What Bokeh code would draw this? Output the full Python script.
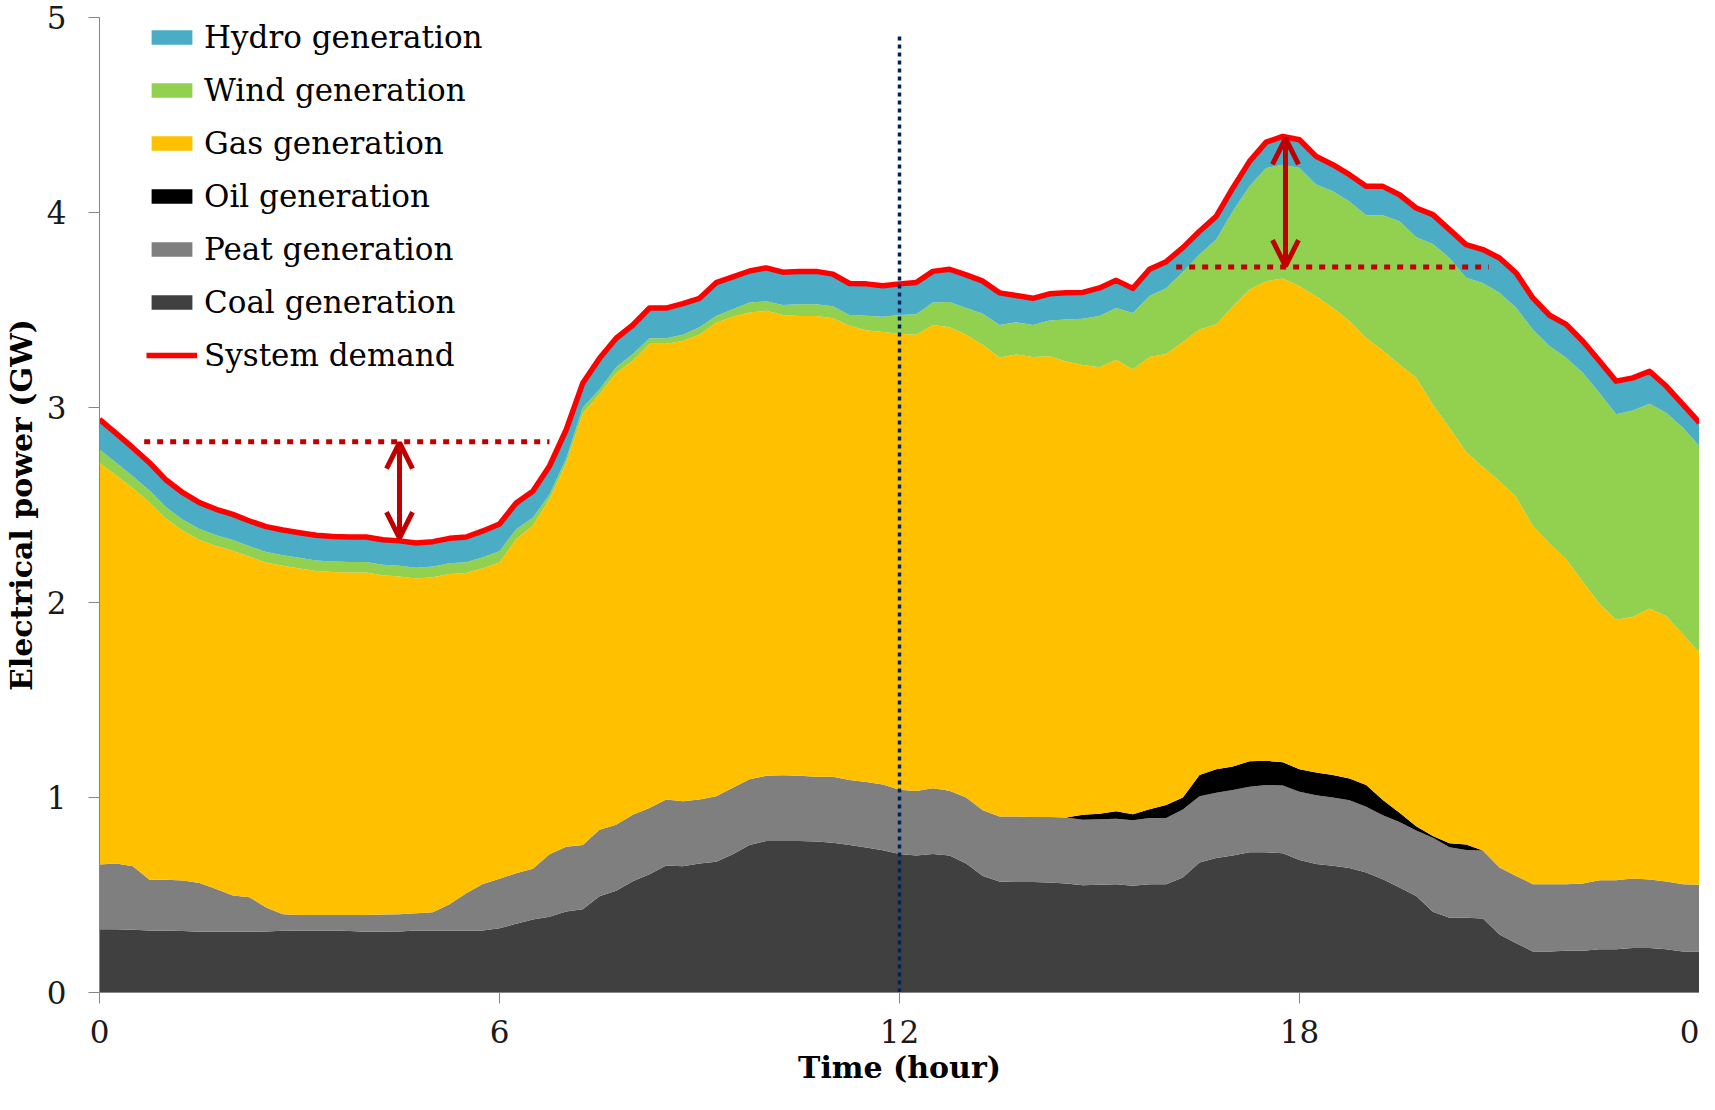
import numpy as np
from bokeh.plotting import figure
from bokeh.models import ColumnDataSource, Legend, LegendItem, Arrow, OpenHead, FixedTicker
from bokeh.embed import file_html
from bokeh.resources import INLINE

# quarter-hour time stamps, 0 .. 24 h
hours = np.arange(97) * 0.25

coal = [
    .324, .324, .322, .318, .317, .315, .311, .311,
    .311, .311, .313, .317, .318, .318, .318, .315,
    .311, .311, .313, .318, .318, .318, .318, .318,
    .329, .353, .375, .388, .415, .427, .493, .522,
    .571, .606, .651, .647, .661, .670, .709, .756,
    .777, .777, .777, .775, .768, .756, .744, .730,
    .710, .702, .710, .702, .662, .598, .569, .567,
    .567, .564, .559, .550, .552, .555, .547, .555,
    .555, .590, .667, .690, .702, .719, .719, .714,
    .679, .659, .650, .638, .616, .581, .538, .495,
    .414, .383, .383, .379, .297, .253, .210, .210,
    .214, .214, .222, .222, .228, .228, .222, .210,
    .210]

peat = [
    .333, .337, .325, .260, .261, .259, .251, .220,
    .186, .177, .123, .084, .080, .080, .080, .083,
    .087, .089, .088, .089, .094, .135, .191, .239,
    .254, .259, .260, .321, .332, .329, .341, .338,
    .341, .340, .339, .334, .329, .337, .341, .337,
    .334, .337, .334, .332, .338, .334, .336, .337,
    .330, .331, .337, .332, .338, .336, .334, .336,
    .333, .336, .338, .336, .336, .336, .336, .340,
    .340, .348, .340, .334, .336, .336, .345, .348,
    .350, .353, .350, .348, .336, .328, .336, .336,
    .379, .362, .348, .349, .344, .345, .345, .345,
    .341, .345, .354, .354, .356, .351, .347, .345,
    .342]

oil = [
    0, 0, 0, 0, 0, 0, 0, 0,
    0, 0, 0, 0, 0, 0, 0, 0,
    0, 0, 0, 0, 0, 0, 0, 0,
    0, 0, 0, 0, 0, 0, 0, 0,
    0, 0, 0, 0, 0, 0, 0, 0,
    0, 0, 0, 0, 0, 0, 0, 0,
    0, 0, 0, 0, 0, 0, 0, 0,
    0, 0, 0, .026, .029, .038, .031, .045,
    .066, .062, .109, .121, .121, .131, .124, .119,
    .116, .116, .116, .112, .112, .078, .048, .021,
    .010, .021, .028, 0, 0, 0, 0, 0,
    0, 0, 0, 0, 0, 0, 0, 0,
    0]

gas = [
    2.060, 1.991, 1.939, 1.936, 1.852, 1.794, 1.759, 1.759,
    1.769, 1.746, 1.769, 1.787, 1.777, 1.764, 1.758, 1.756,
    1.756, 1.740, 1.732, 1.716, 1.718, 1.693, 1.642, 1.619,
    1.622, 1.714, 1.759, 1.822, 1.968, 2.215, 2.235, 2.316,
    2.328, 2.381, 2.337, 2.360, 2.383, 2.428, 2.415, 2.394,
    2.385, 2.360, 2.358, 2.362, 2.352, 2.329, 2.316, 2.320,
    2.338, 2.340, 2.376, 2.378, 2.373, 2.387, 2.354, 2.369,
    2.359, 2.363, 2.339, 2.306, 2.289, 2.316, 2.281, 2.319,
    2.314, 2.336, 2.284, 2.281, 2.360, 2.419, 2.460, 2.480,
    2.477, 2.443, 2.395, 2.345, 2.293, 2.305, 2.298, 2.300,
    2.213, 2.129, 2.013, 1.967, 1.982, 1.943, 1.837, 1.749,
    1.667, 1.548, 1.418, 1.335, 1.342, 1.390, 1.362, 1.282,
    1.191]

wind = [
    .068, .065, .062, .060, .058, .057, .056, .055,
    .055, .054, .054, .054, .054, .054, .054, .054,
    .054, .054, .055, .055, .055, .055, .055, .056,
    .058, .050, .041, .023, .022, .029, .023, .030,
    .035, .028, .028, .032, .039, .034, .039, .051,
    .049, .052, .061, .061, .061, .055, .074, .078,
    .096, .105, .115, .129, .137, .160, .166, .165,
    .164, .183, .215, .237, .263, .265, .290, .313,
    .336, .359, .384, .435, .487, .529, .580, .584,
    .606, .572, .598, .614, .629, .694, .735, .721,
    .823, .872, .893, .944, .965, .970, 1.008, 1.011,
    1.033, 1.071, 1.081, 1.054, 1.059, 1.050, 1.042, 1.059,
    1.059]

hydro = [
    .154, .150, .146, .143, .140, .138, .135, .133,
    .131, .130, .130, .130, .129, .129, .128, .128,
    .128, .128, .128, .127, .127, .128, .130, .135,
    .140, .134, .135, .146, .149, .126, .160, .149,
    .148, .155, .155, .160, .148, .171, .166, .162,
    .171, .168, .168, .168, .165, .162, .164, .159,
    .160, .163, .160, .168, .170, .167, .165, .137,
    .137, .137, .137, .135, .144, .142, .126, .137,
    .137, .125, .120, .119, .120, .128, .133, .145,
    .145, .145, .136, .137, .148, .148, .136, .150,
    .150, .145, .170, .171, .179, .179, .162, .158,
    .171, .162, .163, .170, .167, .167, .137, .120,
    .120]

demand = [
    2.939, 2.867, 2.794, 2.717, 2.628, 2.563, 2.512, 2.478,
    2.452, 2.418, 2.389, 2.372, 2.358, 2.345, 2.338, 2.336,
    2.336, 2.322, 2.316, 2.305, 2.312, 2.329, 2.336, 2.367,
    2.403, 2.510, 2.570, 2.700, 2.886, 3.126, 3.252, 3.355,
    3.423, 3.510, 3.510, 3.533, 3.560, 3.640, 3.670, 3.700,
    3.716, 3.694, 3.698, 3.698, 3.684, 3.636, 3.634, 3.624,
    3.634, 3.641, 3.698, 3.709, 3.680, 3.648, 3.588, 3.574,
    3.560, 3.583, 3.588, 3.590, 3.613, 3.652, 3.611, 3.709,
    3.748, 3.820, 3.904, 3.980, 4.126, 4.262, 4.361, 4.390,
    4.373, 4.288, 4.245, 4.194, 4.134, 4.134, 4.091, 4.023,
    3.989, 3.912, 3.835, 3.810, 3.767, 3.690, 3.562, 3.473,
    3.426, 3.340, 3.238, 3.135, 3.152, 3.186, 3.110, 3.016,
    2.922]

series_names = ["coal", "peat", "oil", "gas", "wind", "hydro"]
series_labels = ["Coal generation", "Peat generation", "Oil generation",
                 "Gas generation", "Wind generation", "Hydro generation"]
series_colors = ["#404040", "#7F7F7F", "#000000", "#FFC000", "#92D050", "#4BACC6"]

x_ticks = [0, 6, 12, 18, 24]
y_ticks = [0, 1, 2, 3, 4, 5]

# annotation values
noon = 12
noon_top = 4.92
valley_level = 2.825
valley_span = [0.67, 6.75]
valley_arrow = dict(x=4.5, low=2.33, high=2.82)
peak_level = 3.72
peak_span = [16.15, 20.84]
peak_arrow = dict(x=17.79, low=3.725, high=4.38)

src = ColumnDataSource(dict(hour=hours, coal=coal, peat=peat, oil=oil, gas=gas,
                            wind=wind, hydro=hydro, demand=demand))

p = figure(width=1699, height=1094, x_range=(0, 24), y_range=(0, 5),
           output_backend="svg", toolbar_location=None,
           min_border_left=96, min_border_right=0, min_border_top=17,
           min_border_bottom=102)
p.outline_line_color = None
p.grid.visible = False
p.background_fill_color = "white"

areas = p.varea_stack(stackers=series_names, x="hour", color=series_colors, source=src)

dem = p.line("hour", "demand", source=src, line_color="#FF0000", line_width=5.5,
             line_join="round")

# noon marker
p.segment(x0=[noon], y0=[0], x1=[noon], y1=[noon_top], line_color="#002060",
          line_width=3.5, line_dash="4 4")

# dotted reference levels
p.line(x=valley_span, y=[valley_level] * 2, line_color="#C00000", line_width=5,
       line_dash="6 7")
p.line(x=peak_span, y=[peak_level] * 2, line_color="#C00000", line_width=5,
       line_dash="6 7")

for a in (valley_arrow, peak_arrow):
    p.add_layout(Arrow(
        start=OpenHead(size=26, line_color="#C00000", line_width=5),
        end=OpenHead(size=26, line_color="#C00000", line_width=5),
        x_start=a["x"], y_start=a["low"], x_end=a["x"], y_end=a["high"],
        line_color="#C00000", line_width=5))

# axes
for ax in (p.xaxis[0], p.yaxis[0]):
    ax.axis_line_color = "#868686"
    ax.major_tick_line_color = "#868686"
    ax.minor_tick_line_color = None
    ax.major_tick_out = 11
    ax.major_tick_in = 0
    ax.major_label_text_font = "DejaVu Serif"
    ax.major_label_text_font_size = "31px"
    ax.major_label_text_color = "#1a1a1a"
    ax.axis_label_text_font = "DejaVu Serif"
    ax.axis_label_text_font_style = "bold"
    ax.axis_label_text_font_size = "30px"
    ax.axis_label_text_color = "#000000"

p.xaxis.ticker = FixedTicker(ticks=x_ticks)
p.xaxis.major_label_overrides = {24: "0"}
p.xaxis.major_label_standoff = 16
p.xaxis.axis_label = "Time (hour)"
p.xaxis.axis_label_standoff = 4

p.yaxis.ticker = FixedTicker(ticks=y_ticks)
p.yaxis.major_label_standoff = 22
p.yaxis.axis_label = "Electrical power (GW)"
p.yaxis.axis_label_standoff = 5

items = [LegendItem(label=series_labels[i], renderers=[areas[i]]) for i in range(5, -1, -1)]
items.append(LegendItem(label="System demand", renderers=[dem]))
legend = Legend(items=items, location=(47, 619), orientation="vertical",
                label_text_font="DejaVu Serif", label_text_font_size="31px",
                label_text_color="#000000", label_standoff=7,
                glyph_width=51, glyph_height=18, label_height=36, spacing=17,
                padding=0, margin=0, border_line_color=None,
                background_fill_alpha=0)
p.add_layout(legend)

open("out.html", "w").write(file_html(p, INLINE))
